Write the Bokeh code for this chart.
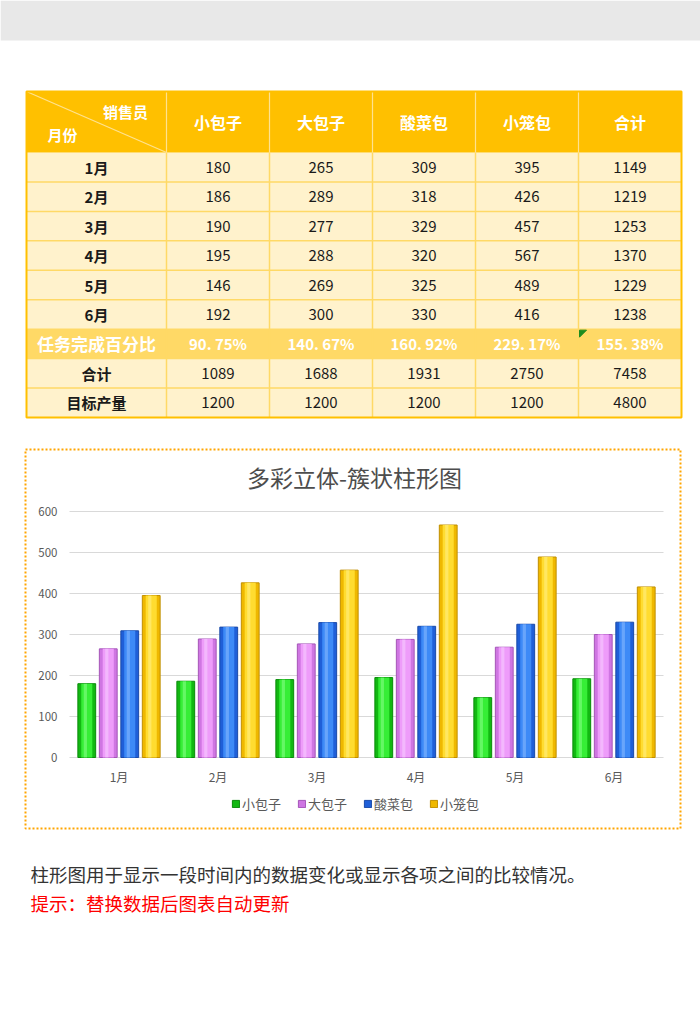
import numpy as np
from bokeh.plotting import figure
from bokeh.models import Range1d, LinearAxis, FixedTicker, Legend, LegendItem
from bokeh.core.properties import value
from bokeh.embed import file_html
from bokeh.resources import INLINE

# ---------------- data ----------------
months = ["1月", "2月", "3月", "4月", "5月", "6月"]
products = ["小包子", "大包子", "酸菜包", "小笼包"]
xiao_baozi = [180, 186, 190, 195, 146, 192]
da_baozi = [265, 289, 277, 288, 269, 300]
suancai_bao = [309, 318, 329, 320, 325, 330]
xiaolong_bao = [395, 426, 457, 567, 489, 416]
row_totals = [1149, 1219, 1253, 1370, 1229, 1238]
pct_done = ["90. 75%", "140. 67%", "160. 92%", "229. 17%", "155. 38%"]
col_totals = [1089, 1688, 1931, 2750, 7458]
targets = [1200, 1200, 1200, 1200, 4800]
y_ticks = [0, 100, 200, 300, 400, 500, 600]
extra_rows = ["任务完成百分比", "合计", "目标产量"]
total_col = "合计"
corner_top, corner_bottom = "销售员", "月份"
chart_title = "多彩立体-簇状柱形图"
note_text = "柱形图用于显示一段时间内的数据变化或显示各项之间的比较情况。"
tip_text = "提示：替换数据后图表自动更新"

series = [xiao_baozi, da_baozi, suancai_bao, xiaolong_bao]

# ---------------- layout / style ----------------
W, H = 700, 1030
FONT = "Noto Sans CJK SC"
col_edges = [26, 166, 269, 372, 475, 578, 681]
T_TOP, HDR_BOT, T_BOT = 91, 152, 417
Y0_PX, YTOP_PX = 757, 511          # pixel rows of value 0 and of top tick
X_LEFT, X_RIGHT = 69, 663           # category area
bar_colors = [  # (edge, main, highlight, outline)
    ("#12b812", "#36ee36", "#8cff8c", "#0a8a0a"),
    ("#cf76e2", "#ee9cfa", "#f8d0ff", "#a455b8"),
    ("#1f5fd8", "#3d8af7", "#8cbcff", "#1a4aa8"),
    ("#efb800", "#ffdc30", "#fff08c", "#c08f00"),
]

p = figure(width=W, height=H, x_range=Range1d(0, W), y_range=Range1d(H, 0),
           output_backend="svg", toolbar_location=None, min_border=0,
           x_axis_type=None, y_axis_type=None, outline_line_color=None,
           background_fill_color="white", border_fill_color="white")

# top grey band
p.quad(left=[0], right=[W], top=[0], bottom=[40], fill_color="#e8e8e8", line_color=None)

# ---------------- table ----------------
n_rows = len(months) + len(extra_rows)
row_h = (T_BOT - HDR_BOT) / n_rows
row_top = HDR_BOT + row_h * np.arange(n_rows)
row_mid = row_top + row_h / 2
col_mid = [(col_edges[i] + col_edges[i + 1]) / 2 for i in range(len(col_edges) - 1)]
pct_row = len(months)

fills = ["#FFF2CC"] * n_rows
fills[pct_row] = "#FFD966"
p.quad(left=[col_edges[0]] * n_rows, right=[col_edges[-1]] * n_rows,
       top=list(row_top), bottom=list(row_top + row_h), fill_color=fills, line_color=None)
p.quad(left=[col_edges[0]], right=[col_edges[-1]], top=[T_TOP], bottom=[HDR_BOT],
       fill_color="#FFC000", line_color=None)

# grid lines
hy = list(row_top[1:])
p.segment(x0=[col_edges[0]] * len(hy), x1=[col_edges[-1]] * len(hy), y0=hy, y1=hy,
          line_color="#FFD966", line_width=1.5)
vx = col_edges[1:-1]
p.segment(x0=vx, x1=vx, y0=[HDR_BOT] * len(vx), y1=[T_BOT] * len(vx),
          line_color="#FFD966", line_width=1.5)
p.segment(x0=vx, x1=vx, y0=[T_TOP] * len(vx), y1=[HDR_BOT] * len(vx),
          line_color="#FFE28F", line_width=1.2)
p.segment(x0=[col_edges[0]], y0=[T_TOP], x1=[col_edges[1]], y1=[HDR_BOT],
          line_color="#FFE28F", line_width=1.2)
p.quad(left=[col_edges[0]], right=[col_edges[-1]], top=[T_TOP], bottom=[T_BOT],
       fill_color=None, line_color="#FFC000", line_width=2)

# header texts
p.text(x=col_mid[1:], y=[(T_TOP + HDR_BOT) / 2] * 5, text=products + [total_col],
       text_font=value(FONT), text_font_style="bold", text_font_size="16px",
       text_color="white", text_align="center", text_baseline="middle")
p.text(x=[125, 62], y=[111, 134], text=[corner_top, corner_bottom],
       text_font=value(FONT), text_font_style="bold", text_font_size="15px",
       text_color="white", text_align="center", text_baseline="middle")

# first column labels
first_col = months + extra_rows
lab_colors = ["#1a1a1a"] * n_rows
lab_colors[pct_row] = "white"
lab_sizes = ["15px"] * n_rows
lab_sizes[pct_row] = "17px"
p.text(x=[col_mid[0]] * n_rows, y=list(row_mid), text=first_col,
       text_font=value(FONT), text_font_style="bold", text_font_size=lab_sizes,
       text_color=lab_colors, text_align="center", text_baseline="middle")

# numbers
tx, ty, tt = [], [], []
for r in range(len(months)):
    vals = [s[r] for s in series] + [row_totals[r]]
    for c, v in enumerate(vals):
        tx.append(col_mid[c + 1]); ty.append(row_mid[r]); tt.append(str(v))
for r_off, vals in ((1, col_totals), (2, targets)):
    for c, v in enumerate(vals):
        tx.append(col_mid[c + 1]); ty.append(row_mid[pct_row + r_off]); tt.append(str(v))
p.text(x=tx, y=ty, text=tt, text_font=value(FONT), text_font_size="15px",
       text_color="#1a1a1a", text_align="center", text_baseline="middle")
p.text(x=col_mid[1:], y=[row_mid[pct_row]] * 5, text=pct_done,
       text_font=value(FONT), text_font_style="bold", text_font_size="15px",
       text_color="white", text_align="center", text_baseline="middle")
# small green comment marker
p.patch(x=[col_edges[5] + 1, col_edges[5] + 8, col_edges[5] + 1],
        y=[row_top[pct_row] + 1, row_top[pct_row] + 1, row_top[pct_row] + 8],
        color="#1e8c1e")

# ---------------- chart ----------------
p.quad(left=[25], right=[680], top=[449], bottom=[828], fill_color=None,
       line_color="#FFA500", line_width=2, line_dash="2 2")

unit_px = (Y0_PX - YTOP_PX) / y_ticks[-1]
cat_px = (X_RIGHT - X_LEFT) / len(months)
mon_start = -0.5 - X_LEFT / cat_px
p.extra_y_ranges = {"val": Range1d(-(H - Y0_PX) / unit_px, Y0_PX / unit_px)}
p.extra_x_ranges = {"mon": Range1d(mon_start, mon_start + W / cat_px)}

p.segment(x0=[-0.5] * len(y_ticks), x1=[len(months) - 0.5] * len(y_ticks),
          y0=y_ticks, y1=y_ticks, line_color="#d9d9d9", line_width=1,
          x_range_name="mon", y_range_name="val")

idx = np.arange(len(months))
pitch, bw = 0.217, 0.18
renderers = []
for k, vals in enumerate(series):
    edge, main, hi, dark = bar_colors[k]
    xk = idx + (k - 1.5) * pitch
    r = p.vbar(x=xk, top=vals, bottom=0, width=bw, fill_color=edge, line_color=dark,
               line_width=1, x_range_name="mon", y_range_name="val")
    p.vbar(x=xk, top=vals, bottom=0, width=bw * 0.62, fill_color=main, line_color=None,
           x_range_name="mon", y_range_name="val")
    p.vbar(x=xk - bw * 0.08, top=vals, bottom=0, width=bw * 0.18, fill_color=hi,
           fill_alpha=0.55, line_color=None, x_range_name="mon", y_range_name="val")
    renderers.append(r)

yax = LinearAxis(y_range_name="val", fixed_location=X_LEFT, ticker=FixedTicker(ticks=y_ticks),
                 axis_line_color=None, major_tick_line_color=None, minor_tick_line_color=None,
                 major_label_standoff=6, major_label_text_font_size="11.5px",
                 major_label_text_color="#595959", major_label_text_font=FONT)
p.add_layout(yax, "left")
xax = LinearAxis(x_range_name="mon", fixed_location=Y0_PX,
                 ticker=FixedTicker(ticks=list(range(len(months)))),
                 major_label_overrides={i: m for i, m in enumerate(months)},
                 axis_line_color=None, major_tick_line_color=None, minor_tick_line_color=None,
                 major_label_standoff=4, major_label_text_font_size="12px",
                 major_label_text_color="#595959", major_label_text_font=FONT)
p.add_layout(xax, "below")

p.text(x=[354], y=[476], text=[chart_title], text_font=value(FONT),
       text_font_size="23px", text_color="#4d4d4d",
       text_align="center", text_baseline="middle")

legend = Legend(items=[LegendItem(label=n, renderers=[r]) for n, r in zip(products, renderers)],
                location=(231, H - 813), orientation="horizontal", glyph_width=9,
                glyph_height=9, label_standoff=2, spacing=16, padding=0, margin=0,
                label_height=16, label_text_font=FONT, label_text_font_size="13px",
                label_text_color="#595959", border_line_color=None,
                background_fill_alpha=0)
p.add_layout(legend)

# ---------------- notes ----------------
p.text(x=[30], y=[873], text=[note_text], text_font=value(FONT), text_font_size="18.5px",
       text_color="#333333", text_align="left", text_baseline="middle")
p.text(x=[30], y=[902], text=[tip_text], text_font=value(FONT), text_font_size="18.5px",
       text_color="#ff0000", text_align="left", text_baseline="middle")

open("out.html", "w").write(file_html(p, INLINE))
